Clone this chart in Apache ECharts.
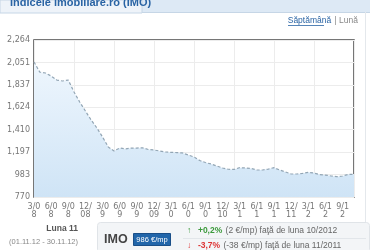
<!DOCTYPE html>
<html><head><meta charset="utf-8">
<script src="https://cdn.jsdelivr.net/npm/echarts@6/dist/echarts.min.js"></script>
<style>html,body{margin:0;padding:0;background:#fff}#c{width:370px;height:250px}</style>
</head><body><div id="c"></div>
<script>
var categories = ["3/08","4/08","5/08","6/08","7/08","8/08","9/08","10/08","11/08","12/08","1/09","2/09","3/09","4/09","5/09","6/09","7/09","8/09","9/09","10/09","11/09","12/09","1/10","2/10","3/10","4/10","5/10","6/10","7/10","8/10","9/10","10/10","11/10","12/10","1/11","2/11","3/11","4/11","5/11","6/11","7/11","8/11","9/11","10/11","11/11","12/11","1/12","2/12","3/12","4/12","5/12","6/12","7/12","8/12","9/12","10/12","11/12"];
var imoValues = [2055,1959,1950,1921,1883,1874,1883,1769,1674,1588,1503,1427,1341,1246,1208,1236,1227,1236,1236,1238,1222,1217,1208,1198,1195,1193,1189,1170,1151,1117,1098,1084,1065,1046,1034,1032,1049,1046,1041,1027,1027,1036,1049,1027,1008,989,989,994,1005,998,984,979,970,963,970,984,986];
var yTicks = [770,983,1197,1410,1624,1837,2051,2264];

var chart = echarts.init(document.getElementById('c'), null, {renderer:'canvas'});
var yMin = yTicks[0], yMax = yTicks[yTicks.length-1];
chart.setOption({
  animation:false,
  grid:{left:34,right:16,top:40,bottom:53,show:true,borderColor:'#4a4a4a',borderWidth:1.5,backgroundColor:'transparent'},
  xAxis:[{
    type:'category',data:categories,boundaryGap:false,
    axisLine:{show:false},axisTick:{show:false},splitLine:{show:false},
    axisLabel:{interval:2,color:'#777',fontSize:8,fontFamily:'DejaVu Sans',lineHeight:8,margin:6,
      formatter:function(v){return v.slice(0,3)+'\n'+v.slice(3);}}
  },{
    type:'value',min:0,max:8,interval:1,position:'top',
    axisLine:{show:false},axisTick:{show:false},axisLabel:{show:false},
    splitLine:{show:true,lineStyle:{color:'#ececec',width:1}}
  }],
  yAxis:{
    type:'value',min:yMin,max:yMax,interval:(yMax-yMin)/7,
    axisLine:{show:false},axisTick:{show:false},
    splitLine:{show:true,lineStyle:{color:'#ececec',width:1}},
    axisLabel:{color:'#777',fontSize:8,fontFamily:'DejaVu Sans',margin:4,
      formatter:function(v){var r=Math.round(v);return r.toLocaleString('en-US');}}
  },
  series:[{
    type:'line',data:imoValues,xAxisIndex:0,symbol:'none',
    lineStyle:{color:'#93a6b5',width:1.2,type:[3,2]},
    areaStyle:{color:new echarts.graphic.LinearGradient(0,0,0,1,[{offset:0,color:'#eef6fd'},{offset:1,color:'#cfe4f6'}]),opacity:1}
  }],
  graphic:[
    {type:'rect',shape:{x:0,y:0,width:370,height:12},style:{fill:'#dde9f5'},z:-1},
    {type:'rect',shape:{x:0,y:0,width:142,height:13},style:{fill:'#eef3f9',stroke:'#c6d6e6',lineWidth:1},z:0},
    {type:'line',shape:{x1:142,y1:12.5,x2:370,y2:12.5},style:{stroke:'#c6d6e6',lineWidth:1}},
    {type:'line',shape:{x1:365.5,y1:12,x2:365.5,y2:250},style:{stroke:'#e4e8ec',lineWidth:1}},
    {type:'text',x:10,y:3,style:{text:'Indicele imobiliare.ro (IMO)',fill:'#2a64a4',font:'bold 11px "Liberation Sans", Arial',verticalAlign:'middle'}},
    {type:'text',x:358,y:21,style:{text:'{a|Săptămână} {b|| Lună}',align:'right',verticalAlign:'middle',
      rich:{a:{fill:'#2a64a4',font:'8.5px "Liberation Sans", Arial'},b:{fill:'#888',font:'8.5px "Liberation Sans", Arial'}}}},
    {type:'line',shape:{x1:288,y1:25.5,x2:324,y2:25.5},style:{stroke:'#2a64a4',lineWidth:0.8}},
    {type:'text',x:78,y:229,style:{text:'Luna 11',align:'right',verticalAlign:'middle',fill:'#555',font:'bold 8.5px "Liberation Sans", Arial'}},
    {type:'text',x:78,y:242,style:{text:'(01.11.12 - 30.11.12)',align:'right',verticalAlign:'middle',fill:'#888',font:'7.5px "Liberation Sans", Arial'}},
    {type:'rect',shape:{x:97.5,y:222.5,width:272,height:30,r:3},style:{fill:'#f3f5f7',stroke:'#e0e4e8',lineWidth:1}},
    {type:'text',x:104,y:240,style:{text:'IMO',verticalAlign:'middle',fill:'#444',font:'bold 12.5px "Liberation Sans", Arial'}},
    {type:'rect',shape:{x:133.5,y:233.5,width:37,height:12},style:{fill:'#2266aa',stroke:'#1a4f88',lineWidth:1}},
    {type:'text',x:152,y:239.5,style:{text:'986 €/mp',align:'center',verticalAlign:'middle',fill:'#fff',font:'7.5px "Liberation Sans", Arial'}},
    {type:'line',shape:{x1:183,y1:238.5,x2:366,y2:238.5},style:{stroke:'#e2e6ea',lineWidth:1}},
    {type:'text',x:187,y:231,style:{text:'{g|↑}  {gp|+0,2%} {t|(2 €/mp) faţă de luna 10/2012}',verticalAlign:'middle',
      rich:{g:{fill:'#3c9a3c',font:'bold 8.5px "Liberation Sans", Arial'},gp:{fill:'#3c9a3c',font:'bold 8.5px "Liberation Sans", Arial'},t:{fill:'#666',font:'8.5px "Liberation Sans", Arial'}}}},
    {type:'text',x:187,y:246,style:{text:'{g|↓}  {gp|-3,7%} {t|(-38 €/mp) faţă de luna 11/2011}',verticalAlign:'middle',
      rich:{g:{fill:'#d33',font:'bold 8.5px "Liberation Sans", Arial'},gp:{fill:'#d33',font:'bold 8.5px "Liberation Sans", Arial'},t:{fill:'#666',font:'8.5px "Liberation Sans", Arial'}}}}
  ]
});
</script></body></html>
